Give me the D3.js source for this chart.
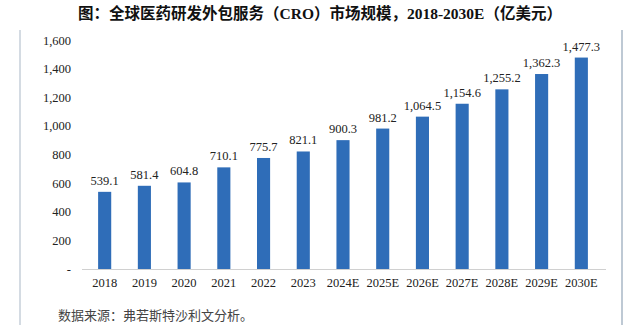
<!DOCTYPE html>
<html><head><meta charset="utf-8">
<script src="https://cdn.jsdelivr.net/npm/d3@7/dist/d3.min.js"></script>
<style>
html,body{margin:0;padding:0;background:#fff;}
svg{display:block;}
</style></head>
<body>
<svg id="c" width="640" height="325"></svg>
<script>
const categories = ["2018","2019","2020","2021","2022","2023","2024E","2025E","2026E","2027E","2028E","2029E","2030E"];
const values = [539.1,581.4,604.8,710.1,775.7,821.1,900.3,981.2,1064.5,1154.6,1255.2,1362.3,1477.3];
const yTicks = [0,200,400,600,800,1000,1200,1400,1600];
const title = "图：全球医药研发外包服务（CRO）市场规模，2018-2030E（亿美元）";
const source = "数据来源：弗若斯特沙利文分析。";

const svg = d3.select("#c");
const serif = "'Liberation Serif','Times New Roman','Noto Sans CJK SC',serif";

// frame lines
svg.append("line").attr("x1",20).attr("x2",20).attr("y1",30).attr("y2",325).attr("stroke","#a9b7c6").attr("stroke-width",1);
svg.append("line").attr("x1",622).attr("x2",622).attr("y1",30).attr("y2",325).attr("stroke","#a9b7c6").attr("stroke-width",1.5);

svg.append("text").attr("x",320).attr("y",19).attr("text-anchor","middle")
  .attr("font-family",serif).attr("font-weight","bold").attr("font-size",15.5).attr("fill","#111")
  .text(title);

const x = d3.scaleBand().domain(categories).range([85,601]).paddingInner(0.67).paddingOuter(0.33);
const y = d3.scaleLinear().domain([0,1600]).range([269,40]);

const fmt = v => v===0 ? "-" : d3.format(",")(v);
const yAxis = d3.axisLeft(y).tickValues(yTicks).tickFormat(fmt).tickSize(0).tickPadding(0);
const gy = svg.append("g").attr("transform","translate(71,0)").call(yAxis);
gy.select(".domain").remove();
gy.selectAll("text").attr("font-family",serif).attr("font-size",12.5).attr("fill","#222");

svg.selectAll("rect.bar").data(values).enter().append("rect")
  .attr("x",(d,i)=>x(categories[i])).attr("width",x.bandwidth())
  .attr("y",d=>y(d)).attr("height",d=>y(0)-y(d)).attr("fill","#2f6db8");

const xAxis = d3.axisBottom(x).tickSize(0).tickPadding(9);
const gx = svg.append("g").attr("transform","translate(0,269)").call(xAxis);
gx.select(".domain").attr("stroke","#d0d0d0").attr("d","M82,0.5H606");
gx.selectAll("text").attr("font-family",serif).attr("font-size",12.5).attr("fill","#222");

svg.selectAll("text.val").data(values).enter().append("text")
  .attr("x",(d,i)=>x(categories[i])+x.bandwidth()/2).attr("y",d=>y(d)-7)
  .attr("text-anchor","middle").attr("font-family",serif).attr("font-size",12.5).attr("fill","#222")
  .text(d=>d3.format(",.1f")(d));

svg.append("text").attr("x",58).attr("y",320).attr("font-family","'Noto Sans CJK SC',sans-serif")
  .attr("font-size",13).attr("fill","#444").text(source);
</script>
</body></html>
